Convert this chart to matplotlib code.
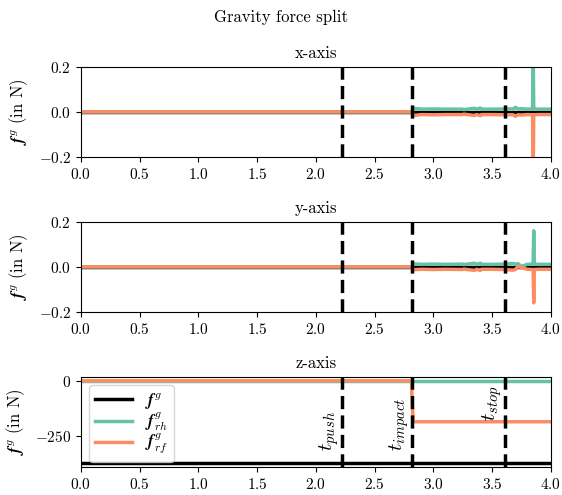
import numpy as np
import matplotlib
matplotlib.use("Agg")
import matplotlib.pyplot as plt

plt.rcParams['font.family'] = 'serif'
plt.rcParams['font.serif'] = ['cmr10']
plt.rcParams['mathtext.fontset'] = 'cm'
plt.rcParams['axes.formatter.use_mathtext'] = True
plt.rcParams['font.size'] = 11

green = '#66c2a5'
orange = '#fc8d62'

# event times (s)
t_push = 2.225
t_impact = 2.82
t_stop = 3.61
event_names = ['$t_{push}$', '$t_{impact}$', '$t_{stop}$']

# x-axis components
t_x = [0.0, 2.82, 2.83, 2.9, 3.0, 3.1, 3.25, 3.26, 3.35, 3.37, 3.4, 3.41, 3.5, 3.6,
       3.68, 3.7, 3.72, 3.75, 3.8, 3.845, 3.85, 3.855, 3.9, 4.0]
fx_tot = [0.0, 0.0, 0.0, 0.0, 0.0, 0.0, 0.0, 0.0, 0.0, 0.0, 0.0, 0.0, 0.0, 0.0,
          0.0, 0.0, 0.0, 0.0, 0.0, 0.0, 0.0, 0.0, 0.0, 0.0]
fx_rh = [0.0, 0.0, 0.016, 0.012, 0.013, 0.012, 0.012, 0.010, 0.016, 0.012, 0.017, 0.012,
         0.012, 0.013, 0.013, 0.020, 0.013, 0.014, 0.012, 0.013, 0.30, 0.013, 0.012, 0.012]
fx_rf = [0.0, 0.0, -0.016, -0.012, -0.013, -0.012, -0.012, -0.010, -0.016, -0.012, -0.017, -0.012,
         -0.012, -0.013, -0.013, -0.020, -0.013, -0.014, -0.012, -0.013, -0.30, -0.013, -0.012, -0.012]

# y-axis components
t_y = [0.0, 2.82, 2.83, 2.9, 3.0, 3.1, 3.25, 3.26, 3.35, 3.37, 3.4, 3.41, 3.5, 3.6,
       3.68, 3.7, 3.72, 3.75, 3.8, 3.85, 3.855, 3.86, 3.9, 4.0]
fy_tot = [0.0, 0.0, 0.0, 0.0, 0.0, 0.0, 0.0, 0.0, 0.0, 0.0, 0.0, 0.0, 0.0, 0.0,
          0.0, 0.0, 0.0, 0.0, 0.0, 0.0, 0.0, 0.0, 0.0, 0.0]
fy_rh = [0.0, 0.0, 0.013, 0.011, 0.012, 0.011, 0.012, 0.010, 0.016, 0.011, 0.016, 0.011,
         0.011, 0.012, 0.015, 0.012, 0.014, 0.002, 0.011, 0.012, 0.16, 0.012, 0.011, 0.011]
fy_rf = [0.0, 0.0, -0.013, -0.011, -0.012, -0.011, -0.012, -0.010, -0.016, -0.011, -0.016, -0.011,
         -0.011, -0.012, -0.015, -0.012, 0.002, -0.004, -0.011, -0.012, -0.16, -0.012, -0.011, -0.011]

# z-axis components
t_z = [0.0, 2.815, 2.82, 2.83, 4.0]
fz_tot = [-370.0, -370.0, -370.0, -370.0, -370.0]
fz_rh = [0.0, 0.0, 0.0, 0.0, 0.0]
fz_rf = [0.0, 0.0, -100.0, -185.0, -185.0]

fig, axs = plt.subplots(3, 1, figsize=(5.62, 4.95), dpi=100)
fig.subplots_adjust(left=0.144, right=0.98, top=0.865, bottom=0.057, hspace=0.72)
fig.suptitle('Gravity force split', fontsize=12, y=0.98)

data = [(t_x, fx_tot, fx_rh, fx_rf, 'x-axis'),
        (t_y, fy_tot, fy_rh, fy_rf, 'y-axis'),
        (t_z, fz_tot, fz_rh, fz_rf, 'z-axis')]

for i, (t, tot, rh, rf, name) in enumerate(data):
    ax = axs[i]
    ax.plot(t, tot, color='black', lw=2.5, label=r'$\boldsymbol{f}^g$')
    ax.plot(t, rh, color=green, lw=2.5, label=r'$\boldsymbol{f}^g_{rh}$')
    ax.plot(t, rf, color=orange, lw=2.5, label=r'$\boldsymbol{f}^g_{rf}$')
    for te in [t_push, t_impact, t_stop]:
        ax.axvline(te, color='black', ls=(0, (3.8, 1.8)), lw=2.5)
    ax.set_xlim(0, 4)
    ax.set_title(name, fontsize=12)
    ax.set_ylabel(r'$\boldsymbol{f}^g$ (in N)', fontsize=12, labelpad=6)
    if i < 2:
        ax.set_ylim(-0.2, 0.2)
        ax.set_yticks([-0.2, 0.0, 0.2])

ax = axs[2]
ax.set_yticks([0, -250])
ax.legend(loc='upper left', labelspacing=-0.05, handlelength=2.2, handletextpad=0.8,
          borderpad=0.35, fontsize=12)
ax.text(t_push - 0.01, -318, event_names[0], rotation=90, ha='right', va='bottom', fontsize=15)
ax.text(t_impact - 0.01, -318, event_names[1], rotation=90, ha='right', va='bottom', fontsize=15)
ax.text(t_stop - 0.01, -182, event_names[2], rotation=90, ha='right', va='bottom', fontsize=15)

fig.savefig('out.png', dpi=100)
